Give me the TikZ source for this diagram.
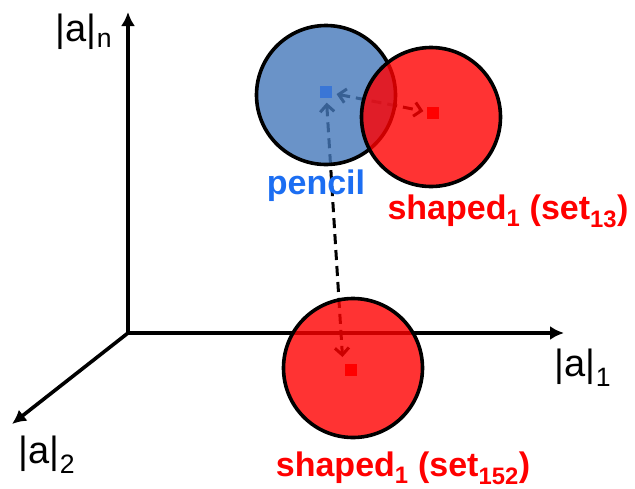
\documentclass[tikz,border=0pt]{standalone}
\usepackage{fontspec}
\setmainfont{Liberation Sans}
\usetikzlibrary{arrows.meta}
\definecolor{ballblue}{HTML}{4578BA}
\definecolor{ballred}{HTML}{FF0000}
\definecolor{dotblue}{HTML}{3A76D6}
\definecolor{dotred}{HTML}{FF0000}
\definecolor{textblue}{HTML}{1C6EF2}
\definecolor{textred}{HTML}{FF0000}

\begin{document}
\begin{tikzpicture}[x=1pt,y=-1pt,
  axis/.style={line width=3.6pt,-{Latex[length=14pt,width=14pt]}},
  ball/.style={circle,draw=black,line width=3.6pt,minimum size=139pt,inner sep=0pt,fill opacity=0.8},
  dot/.style={rectangle,minimum size=11pt,inner sep=0pt},
  link/.style={line width=3pt,dash pattern=on 10pt off 6pt,{Straight Barb[length=7pt,width=14pt]}-{Straight Barb[length=7pt,width=14pt]}},
  axlab/.style={inner sep=0pt,font=\fontsize{38}{40}\selectfont},
  setlab/.style={inner sep=0pt,font=\fontsize{34}{38}\selectfont\bfseries}]
\useasboundingbox (0,0) rectangle (635,488);
% axes
\coordinate (o) at (128,333);
\coordinate (xn) at (128,12);
\coordinate (x1) at (564,333);
\coordinate (x2) at (12,424);
\draw[axis] (o)--(xn);
\draw[axis] (o)--(x1);
\draw[axis] (o)--(x2);
\node[axlab] (labn) at (84,32) {|a|\textsubscript{n}};
\node[axlab] (lab1) at (583,368) {|a|\textsubscript{1}};
\node[axlab] (lab2) at (47,455) {|a|\textsubscript{2}};
% centres
\node[dot] (pencildot) at (326,92) {};
\node[dot] (set13dot) at (433,113) {};
\node[dot] (set152dot) at (351,370) {};
\coordinate (downtip) at (342.5,357);
% distances
\draw[link,shorten <=5pt,shorten >=4pt] (pencildot)--(set13dot);
\draw[link,shorten <=5pt] (pencildot)--(downtip);
% classes
\node[ball,fill=ballblue] (pencil) at (326,95) {};
\node[ball,fill=ballred] (set13) at (431,117) {};
\node[ball,fill=ballred] (set152) at (353,368) {};
\fill[dotblue] (pencildot.south west) rectangle (pencildot.north east);
\fill[dotred] (set13dot.south west) rectangle (set13dot.north east);
\fill[dotred] (set152dot.south west) rectangle (set152dot.north east);
\node[setlab,text=textblue] (pencillab) at (316,186) {pencil};
\node[setlab,text=textred] (set13lab) at (508,211) {shaped\textsubscript{1} (set\textsubscript{13})};
\node[setlab,text=textred] (set152lab) at (403,468) {shaped\textsubscript{1} (set\textsubscript{152})};
\end{tikzpicture}
\end{document}
